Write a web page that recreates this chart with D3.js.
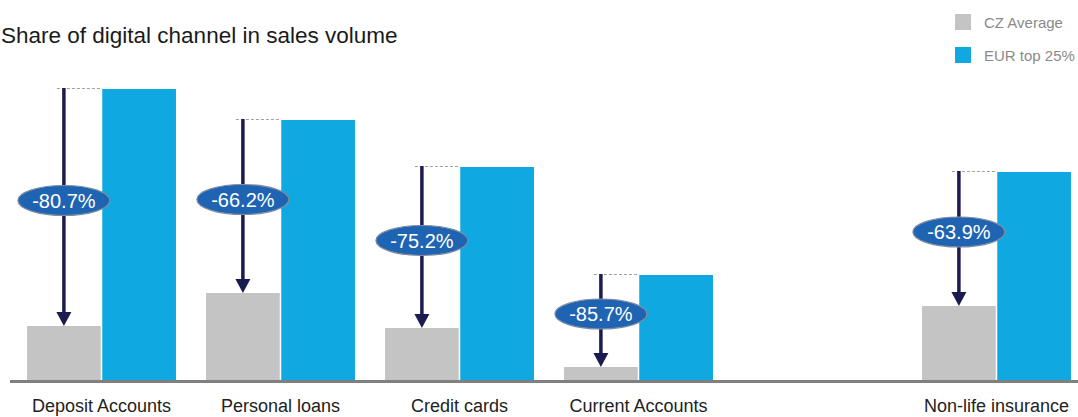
<!DOCTYPE html>
<html>
<head>
<meta charset="utf-8">
<script src="https://cdn.jsdelivr.net/npm/d3@7"></script>
<style>
  body { margin: 0; background: #fff; }
  svg { display: block; font-family: "Liberation Sans", Arial, sans-serif; }
</style>
</head>
<body>
<div id="chart"></div>
<script>
// data
var categories = ["Deposit Accounts", "Personal loans", "Credit cards", "Current Accounts", "", "Non-life insurance"];
var czAverage = [5.4, 8.7, 5.2, 1.3, null, 7.4];
var eurTop25 = [29.1, 26.0, 21.3, 10.5, null, 20.8];
var gapLabels = ["-80.7%", "-66.2%", "-75.2%", "-85.7%", null, "-63.9%"];
var seriesNames = ["CZ Average", "EUR top 25%"];
var seriesColors = ["#c4c4c4", "#10a8e0"];

function drawChart(contId) {
    var w = 1078;
    var h = 417;
    var baseY = 380; // bottom of bars

    var svg = d3.select(contId)
        .append("svg")
        .attr("width", w)
        .attr("height", h);

    var x = d3.scaleBand().domain(categories).range([12, 1086])
        .paddingInner(0.168).paddingOuter(0.084);
    var x1 = d3.scaleBand().domain(seriesNames).range([0, x.bandwidth()]).paddingInner(0.02);
    var y = d3.scaleLinear().domain([0, 30]).range([baseY, 80]);

    var rows = categories.map((c, i) => ({ cat: c, cz: czAverage[i], eur: eurTop25[i], lab: gapLabels[i] }))
        .filter(d => d.eur != null);

    // bars
    var g = svg.append("g");
    g.selectAll("rect.cz").data(rows).enter().append("rect")
        .attr("x", d => x(d.cat) + x1("CZ Average"))
        .attr("y", d => y(d.cz))
        .attr("width", x1.bandwidth())
        .attr("height", d => baseY - y(d.cz))
        .style("fill", seriesColors[0]);
    g.selectAll("rect.eur").data(rows).enter().append("rect")
        .attr("x", d => x(d.cat) + x1("EUR top 25%"))
        .attr("y", d => y(d.eur))
        .attr("width", x1.bandwidth())
        .attr("height", d => baseY - y(d.eur))
        .style("fill", seriesColors[1]);

    // baseline
    svg.append("line")
        .attr("x1", 10).attr("x2", w)
        .attr("y1", baseY + 1.5).attr("y2", baseY + 1.5)
        .style("stroke", "#808080").style("stroke-width", 3);

    // category labels
    svg.append("g").selectAll("text").data(categories).enter().append("text")
        .attr("x", d => x(d) + x.bandwidth() / 2)
        .attr("y", 412)
        .attr("text-anchor", "middle")
        .style("font-size", "18px")
        .style("fill", "#222")
        .text(d => d);

    // arrows showing the gap
    var ax = d => x(d.cat) + x1("CZ Average") + x1.bandwidth() / 2;
    var arr = svg.append("g");
    arr.selectAll("line.dash").data(rows).enter().append("line")
        .attr("x1", d => ax(d) - 7)
        .attr("x2", d => x(d.cat) + x1("EUR top 25%"))
        .attr("y1", d => y(d.eur) - 0.5).attr("y2", d => y(d.eur) - 0.5)
        .style("stroke", "#a0a0a0").style("stroke-width", 1)
        .style("stroke-dasharray", "3,2");
    arr.selectAll("line.shaft").data(rows).enter().append("line")
        .attr("x1", ax).attr("x2", ax)
        .attr("y1", d => y(d.eur) - 1)
        .attr("y2", d => y(d.cz) - 12)
        .style("stroke", "#1b1b50").style("stroke-width", 3.5);
    arr.selectAll("path.head").data(rows).enter().append("path")
        .attr("d", d => "M" + (ax(d) - 7.5) + "," + (y(d.cz) - 14) +
            "L" + (ax(d) + 7.5) + "," + (y(d.cz) - 14) +
            "L" + ax(d) + "," + y(d.cz) + "Z")
        .style("fill", "#1b1b50");

    // percent bubbles
    var ly = d => (y(d.eur) + y(d.cz)) / 2 - 7;
    arr.selectAll("ellipse").data(rows).enter().append("ellipse")
        .attr("cx", ax).attr("cy", ly)
        .attr("rx", 46).attr("ry", 15)
        .style("fill", "#1f64b2")
        .style("stroke", "#7f8ca0").style("stroke-width", 1.2);
    arr.selectAll("text").data(rows).enter().append("text")
        .attr("x", ax).attr("y", d => ly(d) + 7)
        .attr("text-anchor", "middle")
        .style("font-size", "20px")
        .style("fill", "#fff")
        .text(d => d.lab);

    // title
    svg.append("text")
        .attr("x", 1).attr("y", 43)
        .style("font-size", "22.5px")
        .style("fill", "#1a1a1a")
        .text("Share of digital channel in sales volume");

    // legend
    var leg = svg.append("g").selectAll("g").data(seriesNames).enter().append("g")
        .attr("transform", (d, i) => "translate(955," + (14 + i * 33) + ")");
    leg.append("rect").attr("width", 16).attr("height", 16)
        .style("fill", (d, i) => seriesColors[i]);
    leg.append("text").attr("x", 29).attr("y", 14)
        .style("font-size", "15px").style("fill", "#8a8a8a")
        .text(d => d);
}

drawChart("#chart");
</script>
</body>
</html>
